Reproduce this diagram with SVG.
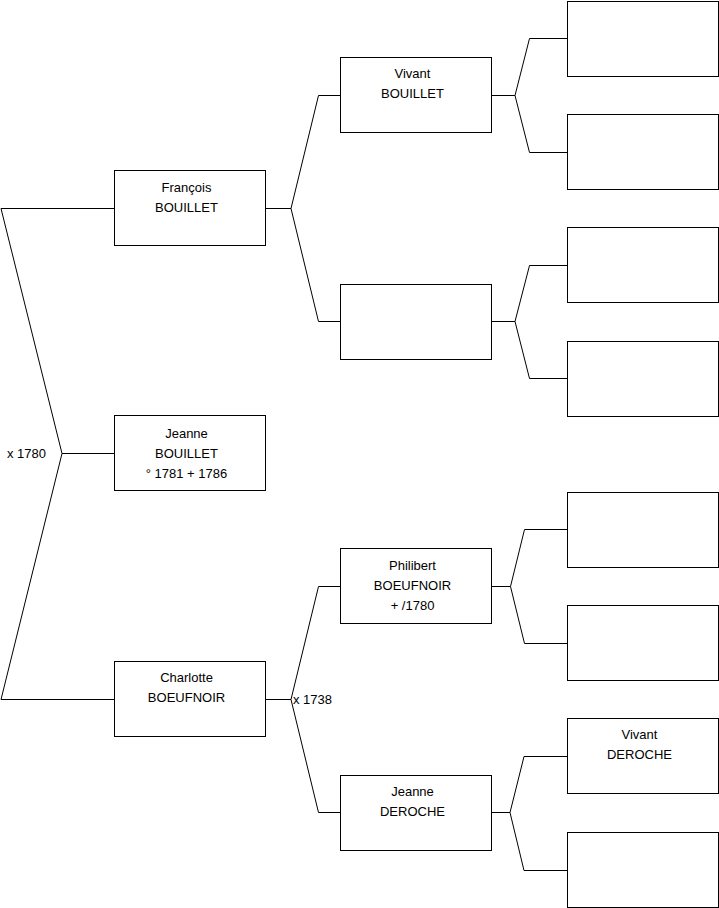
<svg xmlns="http://www.w3.org/2000/svg" width="719" height="908" viewBox="0 0 719 908">
<style>
.box{fill:#fff;stroke:#000;stroke-width:1}
.t{font-family:"Liberation Sans",Arial,sans-serif;font-size:13px;fill:#000;text-anchor:middle}
.lbl{font-family:"Liberation Sans",Arial,sans-serif;font-size:13px;fill:#000}
.c{fill:none;stroke:#000;stroke-width:1}
</style>
<rect width="719" height="908" fill="#fff"/>
<g id="connectors">
<path class="c" d="M114.5,208.5 H1 L62,453.5 L1,699.5 H114.5 M62,453.5 H114.5"/>
<path class="c" d="M265.5,208.5 H291 L318.5,95.5 H340.5 M291,208.5 L318.5,321.5 H340.5"/>
<path class="c" d="M265.5,699.5 H291 L318.5,586.5 H340.5 M291,699.5 L318.5,812.5 H340.5"/>
<path class="c" d="M491.5,95.5 H515 L529.5,38.5 H567.5 M515,95.5 L529.5,152.5 H567.5"/>
<path class="c" d="M491.5,321.5 H515 L529.5,265.5 H567.5 M515,321.5 L529.5,378.5 H567.5"/>
<path class="c" d="M491.5,586.5 H510.5 L524.5,529.5 H567.5 M510.5,586.5 L524.5,643.5 H567.5"/>
<path class="c" d="M491.5,812.5 H510 L524,756.5 H567.5 M510,812.5 L524,870.5 H567.5"/>
<text class="lbl" x="7" y="457.5">x 1780</text>
<text class="lbl" x="293" y="703.5">x 1738</text>
</g>
<g id="francois"><rect class="box" x="114.5" y="170.5" width="151" height="75"/>
<text class="t" x="186.5" y="191.5">François</text><text class="t" x="186.5" y="211.5">BOUILLET</text></g>
<g id="jeanne-bouillet"><rect class="box" x="114.5" y="415.5" width="151" height="75"/>
<text class="t" x="186.5" y="437.5">Jeanne</text><text class="t" x="186.5" y="457.5">BOUILLET</text><text class="t" x="186.5" y="477.5">° 1781 + 1786</text></g>
<g id="charlotte"><rect class="box" x="114.5" y="661.5" width="151" height="75"/>
<text class="t" x="186.5" y="682">Charlotte</text><text class="t" x="186.5" y="702">BOEUFNOIR</text></g>
<g id="vivant-bouillet"><rect class="box" x="340.5" y="57.5" width="151" height="75"/>
<text class="t" x="412.5" y="78">Vivant</text><text class="t" x="412.5" y="98">BOUILLET</text></g>
<g id="blank-2"><rect class="box" x="340.5" y="284.5" width="151" height="75"/></g>
<g id="philibert"><rect class="box" x="340.5" y="548.5" width="151" height="75"/>
<text class="t" x="412.5" y="569.5">Philibert</text><text class="t" x="412.5" y="589.5">BOEUFNOIR</text><text class="t" x="412.5" y="609.5">+ /1780</text></g>
<g id="jeanne-deroche"><rect class="box" x="340.5" y="775.5" width="151" height="75"/>
<text class="t" x="412.5" y="796">Jeanne</text><text class="t" x="412.5" y="816">DEROCHE</text></g>
<g id="g3-1"><rect class="box" x="567.5" y="1.5" width="151" height="75"/></g>
<g id="g3-2"><rect class="box" x="567.5" y="114.5" width="151" height="75"/></g>
<g id="g3-3"><rect class="box" x="567.5" y="227.5" width="151" height="75"/></g>
<g id="g3-4"><rect class="box" x="567.5" y="341.5" width="151" height="75"/></g>
<g id="g3-5"><rect class="box" x="567.5" y="492.5" width="151" height="75"/></g>
<g id="g3-6"><rect class="box" x="567.5" y="605.5" width="151" height="75"/></g>
<g id="vivant-deroche"><rect class="box" x="567.5" y="718.5" width="151" height="75"/>
<text class="t" x="639.5" y="738.5">Vivant</text><text class="t" x="639.5" y="758.5">DEROCHE</text></g>
<g id="g3-8"><rect class="box" x="567.5" y="832.5" width="151" height="75"/></g>
</svg>
